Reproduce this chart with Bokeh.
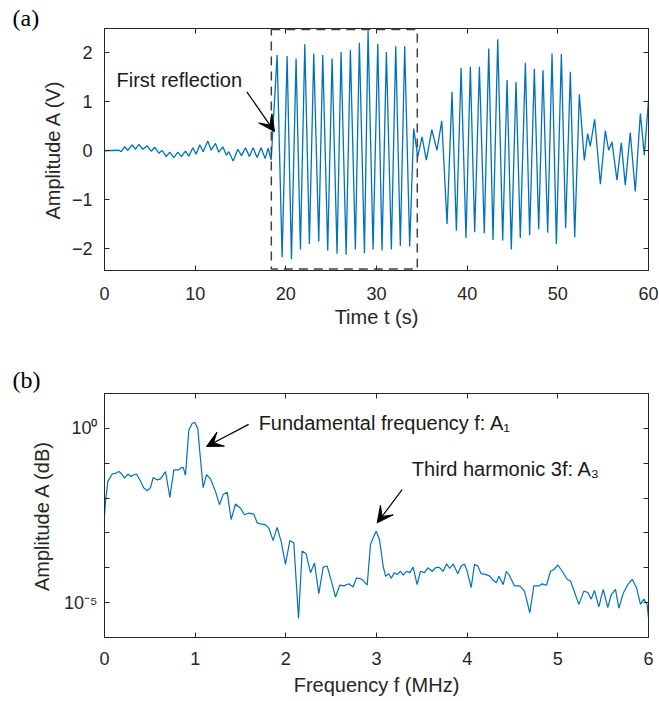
from bokeh.plotting import figure
from bokeh.layouts import column
from bokeh.models import (Range1d, FixedTicker, LinearAxis, LogAxis, Label, Arrow,
                          VeeHead, BoxAnnotation, CustomJSTickFormatter)
from bokeh.embed import file_html
from bokeh.resources import INLINE

# ---------------- data: panel (a), time signal (extrema) ----------------
time_s = [0.00, 1.58, 1.84, 2.21, 2.57, 3.05, 3.42, 3.79, 4.23, 4.70,
          5.15, 5.55, 5.99, 6.36, 6.80, 7.20, 7.64, 8.09, 8.49, 8.93,
          9.30, 9.74, 10.11, 10.51, 10.88, 11.39, 11.76, 12.24, 12.61, 13.05,
          13.45, 13.71, 14.19, 14.70, 15.11, 15.55, 15.99, 16.39, 16.83, 17.27,
          17.72, 18.05, 18.38,
          19.04, 19.59, 20.14, 20.62, 21.13, 21.61, 22.09, 22.60, 23.08, 23.63,
          24.07, 24.62, 25.10, 25.65, 26.09, 26.65, 27.12, 27.67, 28.11, 28.67,
          29.07, 29.62, 30.14, 30.61, 31.09, 31.64, 32.12, 32.63, 33.11, 33.66,
          34.10, 34.55, 35.02, 35.50, 36.10, 36.67, 37.20, 37.78, 38.33, 38.81,
          39.33, 39.87, 40.35, 40.83, 41.35, 41.89, 42.38, 42.85, 43.37, 43.92,
          44.40, 44.87, 45.39, 45.86, 46.42, 46.89, 47.41, 47.89, 48.36, 48.88,
          49.36, 49.84, 50.39, 50.86, 51.38, 51.86, 52.37, 52.92, 53.29, 53.58,
          54.06, 54.69, 55.24, 55.60, 55.97, 56.52, 57.00, 57.44, 57.99, 58.54,
          59.10, 59.54, 60.00]
amplitude_v = [0.00, 0.01, -0.02, 0.08, 0.01, 0.12, 0.03, 0.13, 0.03, 0.10,
               -0.01, 0.07, -0.05, 0.01, -0.12, -0.03, -0.14, -0.03, -0.12, -0.01,
               -0.11, 0.06, -0.07, 0.12, -0.02, 0.20, 0.01, 0.15, -0.03, 0.08,
               -0.09, -0.02, -0.21, 0.03, -0.10, 0.06, -0.12, 0.06, -0.14, 0.06,
               -0.16, 0.05, -0.19,
               1.95, -2.17, 1.93, -2.21, 1.88, -2.01, 2.17, -1.90, 1.98, -1.85,
               1.95, -2.03, 1.88, -2.10, 2.01, -2.12, 2.05, -2.01, 2.20, -2.09,
               2.45, -2.01, 2.18, -2.03, 2.01, -2.01, 2.13, -1.94, 2.13, -1.95,
               0.45, -0.12, 0.28, -0.19, 0.43, 0.01, 0.61, -1.49, 1.20, -1.63,
               1.69, -1.78, 1.71, -1.66, 1.71, -1.68, 2.08, -1.82, 2.27, -1.83,
               1.44, -2.01, 1.40, -1.78, 1.79, -1.72, 1.67, -1.60, 1.64, -1.67,
               1.98, -1.90, 1.97, -1.58, 1.61, -1.76, 1.15, -0.20, 0.35, 0.09,
               0.64, -0.68, 0.41, 0.01, 0.18, -0.60, 0.16, -0.70, 0.37, -0.83,
               0.76, -0.09, 1.03]

# dashed window around the first reflection
window_t = [18.4, 34.5]
window_v = [-2.41, 2.47]

# ---------------- data: panel (b), spectrum ----------------
freq_mhz = [0.000, 0.011, 0.037, 0.085, 0.121, 0.158, 0.184, 0.221, 0.257, 0.294,
            0.323, 0.353, 0.390, 0.434, 0.471, 0.507, 0.537, 0.581, 0.618, 0.673,
            0.721, 0.765, 0.820, 0.838, 0.868, 0.893, 0.930, 0.967, 0.996, 1.029,
            1.051, 1.088, 1.125, 1.169, 1.224, 1.268, 1.309, 1.353, 1.397, 1.445,
            1.500, 1.544, 1.592, 1.647, 1.684, 1.720, 1.775, 1.812, 1.860, 1.904,
            1.948, 1.996, 2.044, 2.088, 2.140, 2.180, 2.224, 2.272, 2.316, 2.364,
            2.412, 2.456, 2.500, 2.548, 2.595, 2.639, 2.695, 2.742, 2.779, 2.842,
            2.897, 2.934,
            2.963, 2.996, 3.033, 3.073, 3.100, 3.136, 3.162, 3.198, 3.228, 3.265,
            3.294, 3.331, 3.368, 3.404, 3.448, 3.485, 3.529, 3.566, 3.614, 3.651,
            3.688, 3.735, 3.772, 3.809, 3.846, 3.897, 3.934, 3.970, 4.000, 4.044,
            4.081, 4.117, 4.154, 4.201, 4.250, 4.286, 4.323, 4.349, 4.397, 4.433,
            4.470, 4.522, 4.581, 4.632, 4.691, 4.735, 4.790, 4.827, 4.875, 4.919,
            4.956, 5.000, 5.048, 5.103, 5.140, 5.195, 5.232, 5.287, 5.331, 5.368,
            5.404, 5.452, 5.500, 5.551, 5.588, 5.636, 5.673, 5.720, 5.772, 5.820,
            5.867, 5.912, 5.948, 5.985, 6.000]
log10_amp = [-2.52, -2.10, -1.52, -1.31, -1.29, -1.24, -1.29, -1.43, -1.31, -1.38,
             -1.33, -1.31, -1.48, -1.71, -1.79, -1.70, -1.41, -1.48, -1.45, -1.24,
             -1.98, -1.19, -1.19, -1.14, -1.12, -1.35, -0.05, 0.14, 0.17, 0.00,
             -0.67, -1.70, -1.33, -1.45, -1.81, -2.19, -1.90, -1.83, -2.62, -2.17,
             -2.29, -2.48, -2.43, -2.46, -2.71, -2.74, -2.76, -2.86, -3.22, -2.84,
             -3.24, -3.90, -3.22, -3.29, -5.45, -3.52, -3.60, -4.14, -3.86, -4.74,
             -3.98, -3.95, -4.36, -4.84, -4.50, -4.52, -4.46, -4.55, -4.29, -4.33,
             -4.50, -3.33,
             -3.14, -2.95, -3.19, -3.95, -4.24, -4.17, -4.30, -4.14, -4.19, -4.10,
             -4.21, -4.10, -4.14, -3.98, -4.48, -4.10, -4.14, -4.00, -4.10, -4.00,
             -3.98, -4.10, -3.89, -4.02, -3.89, -4.17, -3.95, -3.89, -4.10, -4.57,
             -3.90, -3.95, -4.17, -4.19, -4.24, -4.36, -4.43, -4.24, -4.48, -4.10,
             -4.24, -4.52, -4.52, -4.67, -5.29, -4.52, -4.52, -4.46, -4.50, -4.10,
             -4.05, -3.92, -4.10, -4.33, -4.38, -4.78, -5.05, -4.67, -4.71, -4.90,
             -4.65, -5.12, -4.62, -5.14, -4.78, -4.62, -5.16, -4.74, -4.48, -4.33,
             -4.57, -5.05, -4.90, -5.05, -5.43]
amp_spectrum = [10 ** v for v in log10_amp]

ticks_a_x = [0, 10, 20, 30, 40, 50, 60]
ticks_a_y = [-2, -1, 0, 1, 2]
ticks_b_x = [0, 1, 2, 3, 4, 5, 6]
ticks_b_y = [1e-5, 1e-4, 1e-3, 1e-2, 1e-1, 1e0]

FONT = "Liberation Sans"
AX = "#262626"
LINE = "#0072BD"


def style_axis(ax, show_labels=True, standoff=12, label_standoff=4):
    ax.axis_line_color = AX
    ax.axis_line_width = 1
    ax.major_tick_line_color = AX
    ax.major_tick_in = 5
    ax.major_tick_out = 0
    ax.minor_tick_in = 0
    ax.minor_tick_out = 0
    ax.major_label_text_font = FONT
    ax.major_label_text_font_size = "18px"
    ax.major_label_text_color = AX
    ax.major_label_standoff = standoff
    ax.axis_label_text_font = FONT
    ax.axis_label_text_font_size = "20px"
    ax.axis_label_text_font_style = "normal"
    ax.axis_label_text_color = AX
    ax.axis_label_standoff = label_standoff
    if not show_labels:
        ax.formatter = CustomJSTickFormatter(code="return '';")
        ax.major_label_standoff = 0
        ax.major_label_text_font_size = "1px"


def style_title(p, text, standoff):
    p.title.text = text
    p.title.align = "left"
    p.title.offset = -92
    p.title.standoff = standoff
    p.title.text_font = "Liberation Serif"
    p.title.text_font_size = "24px"
    p.title.text_font_style = "normal"
    p.title.text_color = "black"


# ---------------- panel (a) ----------------
pa = figure(width=659, height=330, x_range=Range1d(0, 60), y_range=Range1d(-2.44, 2.49),
            output_backend="svg", toolbar_location=None,
            min_border_left=104, min_border_right=11, min_border_top=28, min_border_bottom=60)
pa.grid.visible = False
pa.outline_line_color = AX
pa.background_fill_color = "white"
pa.border_fill_color = "white"
style_title(pa, "(a)", -5)

pa.line(time_s, amplitude_v, line_color=LINE, line_width=1.3)

pa.xaxis.ticker = FixedTicker(ticks=ticks_a_x)
pa.yaxis.ticker = FixedTicker(ticks=ticks_a_y)
pa.xaxis.axis_label = "Time t (s)"
pa.yaxis.axis_label = "Amplitude A (V)"
style_axis(pa.xaxis[0], standoff=16, label_standoff=3)
style_axis(pa.yaxis[0], standoff=12, label_standoff=5)
ax_top = LinearAxis(ticker=FixedTicker(ticks=ticks_a_x))
ax_right = LinearAxis(ticker=FixedTicker(ticks=ticks_a_y))
style_axis(ax_top, show_labels=False)
style_axis(ax_right, show_labels=False)
pa.add_layout(ax_top, "above")
pa.add_layout(ax_right, "right")

pa.add_layout(BoxAnnotation(left=window_t[0], right=window_t[1], bottom=window_v[0], top=window_v[1],
                            fill_alpha=0, line_color="#404040", line_alpha=1.0,
                            line_width=1.5, line_dash="9 6"))

pa.add_layout(Arrow(end=VeeHead(size=16, fill_color="black", line_color="black"),
                    x_start=15.7, y_start=1.2, x_end=18.75, y_end=0.39,
                    line_color="black", line_width=1.2))
pa.add_layout(Label(x=1.32, y=1.44, text="First reflection", text_font=FONT,
                    text_font_size="20px", text_color="#1a1a1a", text_baseline="middle"))

# ---------------- panel (b) ----------------
pb = figure(width=659, height=371, x_range=Range1d(0, 6), y_range=Range1d(1e-6, 1e1),
            y_axis_type="log", output_backend="svg", toolbar_location=None,
            min_border_left=104, min_border_right=11, min_border_top=63, min_border_bottom=64)
pb.grid.visible = False
pb.outline_line_color = AX
pb.background_fill_color = "white"
pb.border_fill_color = "white"
style_title(pb, "(b)", 2)

pb.line(freq_mhz, amp_spectrum, line_color=LINE, line_width=1.2)

pb.xaxis.ticker = FixedTicker(ticks=ticks_b_x)
pb.yaxis.ticker = FixedTicker(ticks=ticks_b_y)
pb.yaxis.formatter = CustomJSTickFormatter(code="""
const e = Math.round(Math.log10(tick));
if (e === 0) { return "10\u2070"; }
if (e === -5) { return "10\u207b\u2075"; }
return "";
""")
pb.xaxis.axis_label = "Frequency f (MHz)"
pb.yaxis.axis_label = "Amplitude A (dB)"
style_axis(pb.xaxis[0], standoff=14, label_standoff=6)
style_axis(pb.yaxis[0], standoff=7, label_standoff=8)
bx_top = LinearAxis(ticker=FixedTicker(ticks=ticks_b_x))
by_right = LogAxis(ticker=FixedTicker(ticks=ticks_b_y))
style_axis(bx_top, show_labels=False)
style_axis(by_right, show_labels=False)
pb.add_layout(bx_top, "above")
pb.add_layout(by_right, "right")

pb.add_layout(Arrow(end=VeeHead(size=16, fill_color="black", line_color="black"),
                    x_start=1.59, y_start=10 ** 0.114, x_end=1.125, y_end=10 ** -0.52,
                    line_color="black", line_width=1.2))
pb.add_layout(Arrow(end=VeeHead(size=16, fill_color="black", line_color="black"),
                    x_start=3.283, y_start=10 ** -1.76, x_end=3.008, y_end=10 ** -2.71,
                    line_color="black", line_width=1.2))
pb.add_layout(Label(x=1.70, y=10 ** 0.16, text="Fundamental frequency f: A\u2081", text_font=FONT,
                    text_font_size="20px", text_color="#1a1a1a", text_baseline="middle"))
pb.add_layout(Label(x=3.39, y=10 ** -1.18, text="Third harmonic 3f: A\u2083", text_font=FONT,
                    text_font_size="20px", text_color="#1a1a1a", text_baseline="middle"))

layout = column(pa, pb, spacing=0)
open("out.html", "w").write(file_html(layout, INLINE))
